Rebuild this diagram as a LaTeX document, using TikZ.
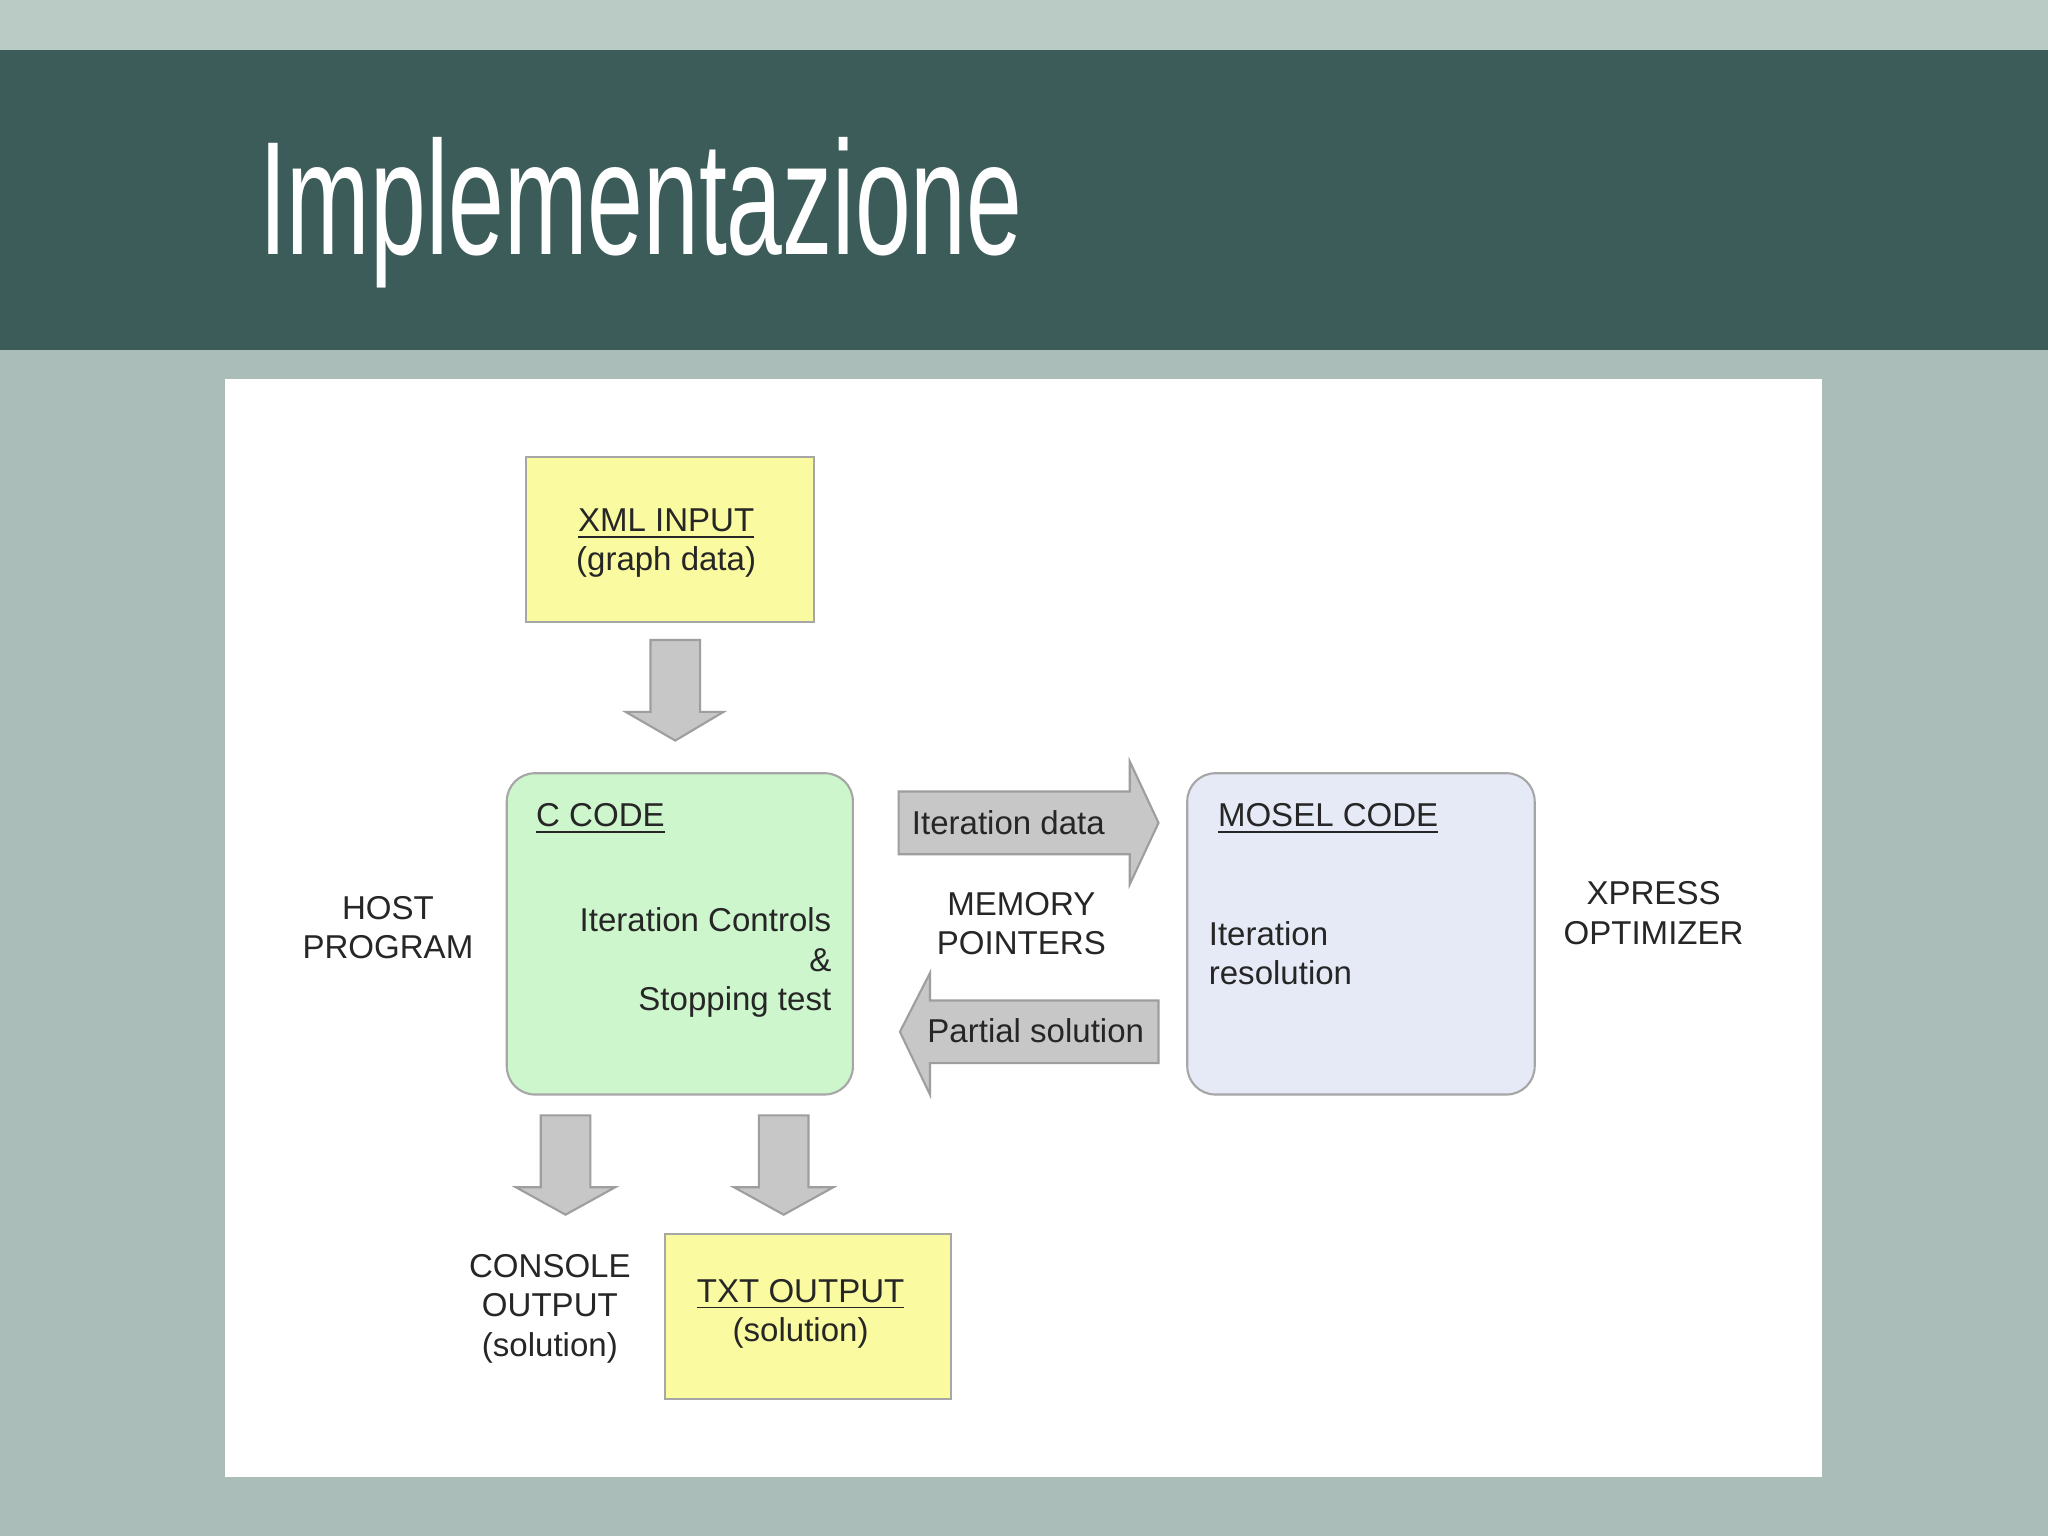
\documentclass[tikz,border=0pt]{standalone}
\usepackage{fontspec}
\setmainfont{Liberation Sans}
\begin{document}
\begin{tikzpicture}[x={(0.013061cm,0)},y={(0,-0.013061cm)},
  box/.style={draw=black!35,line width=0.6pt},
  blk/.style={fill=black!22,draw=black!38,line width=0.6pt},
  lbl/.style={font=\fontsize{9.4}{11.2}\selectfont,text=black!85,align=center,inner sep=0pt}]
\useasboundingbox (0,0) rectangle (1568,1176);
\fill[fill={rgb,255:red,170;green,189;blue,184}] (0,0) rectangle (1568,1176);
\fill[fill={rgb,255:red,186;green,202;blue,197}] (0,0) rectangle (1568,38);
\fill[fill={rgb,255:red,60;green,92;blue,90}] (0,38) rectangle (1568,268);
\node[inner sep=0pt,anchor=west,text=white,font=\fontsize{46}{50}\selectfont,xscale=0.62] (title) at (198,163) {Implementazione};
\fill[white] (172,290) rectangle (1395,1131);
% boxes
\draw[box,fill={rgb,255:red,250;green,250;blue,160}] (403,350) rectangle (623,476);
\node[lbl] (xml) at (510,416) {\underline{XML INPUT}\\(graph data)};
\draw[box,fill={rgb,255:red,205;green,246;blue,205},rounded corners=8pt] (388,592) rectangle (653,838);
\node[lbl,anchor=west] (cc) at (410,627) {\underline{C CODE}};
\node[lbl,align=right,anchor=east] (ic) at (637,737) {Iteration Controls\\\&\\Stopping test};
\draw[box,fill={rgb,255:red,230;green,234;blue,246},rounded corners=8pt] (909,592) rectangle (1175,838);
\node[lbl,anchor=west] (mc) at (932,627) {\underline{MOSEL CODE}};
\node[lbl,align=left,anchor=west] (ir) at (925,730) {Iteration\\resolution};
\draw[box,fill={rgb,255:red,250;green,250;blue,160}] (509,945) rectangle (728,1071);
\node[lbl] (txt) at (613,1006) {\underline{TXT OUTPUT}\\(solution)};
% side labels
\node[lbl] (host) at (297,710) {HOST\\PROGRAM};
\node[lbl] (xp) at (1266,699) {XPRESS\\OPTIMIZER};
\node[lbl] (mem) at (782,707) {MEMORY\\POINTERS};
\node[lbl] (con) at (421,1002) {CONSOLE\\OUTPUT\\(solution)};
% block arrows
\draw[blk] (498,490) -- (536,490) -- (536,545) -- (554,545) -- (517,567) -- (479,545) -- (498,545) -- cycle;
\foreach \c in {433,600}{
 \draw[blk] (\c-19,854) -- (\c+19,854) -- (\c+19,909) -- (\c+38,909) -- (\c,930) -- (\c-38,909) -- (\c-19,909) -- cycle;}
\draw[blk] (688,606) -- (865,606) -- (865,583) -- (887,630) -- (865,677) -- (865,654) -- (688,654) -- cycle;
\node[lbl] (itd) at (772,630) {Iteration data};
\draw[blk] (887,766) -- (712,766) -- (712,745) -- (689,790) -- (712,838) -- (712,814) -- (887,814) -- cycle;
\node[lbl] (ps) at (793,789) {Partial solution};
\end{tikzpicture}
\end{document}
